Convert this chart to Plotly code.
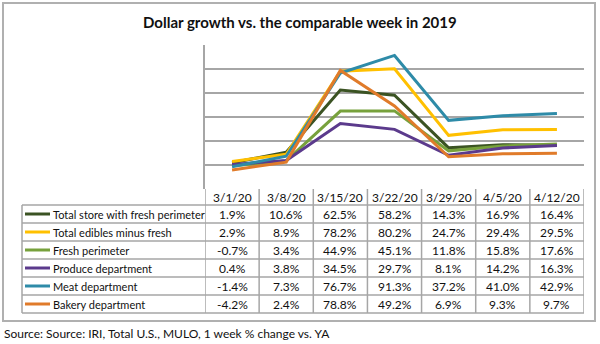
import plotly.graph_objects as go

W, H = 600, 344

weeks = ["3/1/20", "3/8/20", "3/15/20", "3/22/20", "3/29/20", "4/5/20", "4/12/20"]
series_names = [
    "Total store with fresh perimeter",
    "Total edibles minus fresh",
    "Fresh perimeter",
    "Produce department",
    "Meat department",
    "Bakery department",
]
total_store = [1.9, 10.6, 62.5, 58.2, 14.3, 16.9, 16.4]
total_edibles = [2.9, 8.9, 78.2, 80.2, 24.7, 29.4, 29.5]
fresh_perimeter = [-0.7, 3.4, 44.9, 45.1, 11.8, 15.8, 17.6]
produce = [0.4, 3.8, 34.5, 29.7, 8.1, 14.2, 16.3]
meat = [-1.4, 7.3, 76.7, 91.3, 37.2, 41.0, 42.9]
bakery = [-4.2, 2.4, 78.8, 49.2, 6.9, 9.3, 9.7]
colors = ["#3B5323", "#FFC000", "#77A13C", "#5B3A8C", "#2E8BA8", "#E07B2A"]

all_series = [total_store, total_edibles, fresh_perimeter, produce, meat, bakery]

title_text = "Dollar growth vs. the comparable week in 2019"
source_text = "Source: Source: IRI, Total U.S., MULO, 1 week % change vs. YA"

FONT = "Lato"
GRID = "#A6A6A6"

# layout geometry (pixels)
PL, PR, PT, PB = 205, 584, 45, 189
ROW_TOP, ROW_H = 205, 18
LEG_L = 22

def px(x):
    return x / W

def py(y):
    return 1 - y / H

fig = go.Figure()
order = [0, 2, 3, 1, 4, 5]
for i in order:
    fig.add_trace(go.Scatter(
        x=weeks, y=all_series[i], mode="lines", name=series_names[i],
        line=dict(color=colors[i], width=3), showlegend=False, hoverinfo="skip",
    ))

shapes = []
annotations = []

# outer frame
shapes.append(dict(type="rect", xref="paper", yref="paper",
                   x0=px(3), x1=px(595), y0=py(321), y1=py(3),
                   line=dict(color="#B0B0B0", width=2)))

# table: header text
for w in weeks:
    annotations.append(dict(x=w, y=py(197.5), xref="x", yref="paper", text=w,
                            showarrow=False, font=dict(family=FONT, size=12, color="#111"),
                            xanchor="center", yanchor="middle"))

n_rows = len(series_names)
table_bottom = ROW_TOP + n_rows * ROW_H
for k in range(len(weeks) + 1):
    shapes.append(dict(type="line", xref="x", yref="paper",
                       x0=k - 0.5, x1=k - 0.5, y0=py(PB), y1=py(table_bottom),
                       line=dict(color=GRID, width=1.5)))
shapes.append(dict(type="line", xref="paper", yref="paper",
                   x0=px(LEG_L), x1=px(LEG_L), y0=py(ROW_TOP), y1=py(table_bottom),
                   line=dict(color=GRID, width=1.5)))
for r in range(n_rows + 1):
    yy = ROW_TOP + r * ROW_H
    shapes.append(dict(type="line", xref="paper", yref="paper",
                       x0=px(LEG_L), x1=px(PR), y0=py(yy), y1=py(yy),
                       line=dict(color=GRID, width=1.5)))

for r, (name, vals, c) in enumerate(zip(series_names, all_series, colors)):
    yc = ROW_TOP + r * ROW_H + ROW_H / 2
    shapes.append(dict(type="line", xref="paper", yref="paper",
                       x0=px(25), x1=px(50), y0=py(yc), y1=py(yc),
                       line=dict(color=c, width=3)))
    annotations.append(dict(x=px(51), y=py(yc), xref="paper", yref="paper", text=name,
                            showarrow=False, font=dict(family=FONT, size=11, color="#111"),
                            xanchor="left", yanchor="middle"))
    for w, v in zip(weeks, vals):
        annotations.append(dict(x=w, y=py(yc), xref="x", yref="paper", text=f"{v:.1f}%",
                                showarrow=False, font=dict(family=FONT, size=12, color="#111"),
                                xanchor="center", yanchor="middle"))

annotations.append(dict(x=0.5, y=py(21.5), xref="paper", yref="paper", text=f"<b>{title_text}</b>",
                        showarrow=False, font=dict(family=FONT, size=15, color="#111"),
                        xanchor="center", yanchor="middle"))
annotations.append(dict(x=px(2), y=py(333), xref="paper", yref="paper", text=source_text,
                        showarrow=False, font=dict(family=FONT, size=12, color="#111"),
                        xanchor="left", yanchor="middle"))

fig.update_layout(
    width=W, height=H, margin=dict(l=0, r=0, t=0, b=0),
    paper_bgcolor="white", plot_bgcolor="white",
    xaxis=dict(domain=[px(PL), px(PR)], type="category", range=[-0.5, 6.5],
               showticklabels=False, showgrid=False, zeroline=False,
               showline=False, ticks=""),
    yaxis=dict(domain=[py(PB), py(PT)], range=[-20, 100], dtick=20,
               showticklabels=False, showgrid=True, gridcolor=GRID, gridwidth=1.5,
               zeroline=False, showline=True, linecolor=GRID, linewidth=1.5, ticks=""),
    shapes=shapes, annotations=annotations,
)

fig.write_html("out.html")
